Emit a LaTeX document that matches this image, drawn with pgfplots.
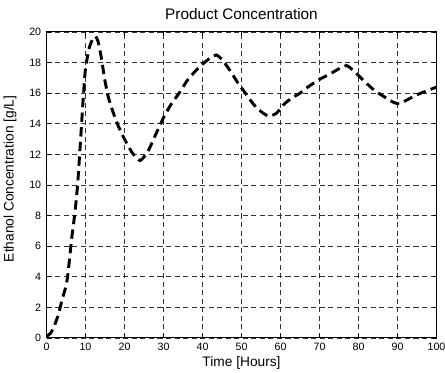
\documentclass[border=0pt]{standalone}
\usepackage{pgfplots}
\pgfplotsset{compat=1.18}
\usepackage{fontspec}
\setmainfont{Liberation Sans}
\begin{document}
\begin{tikzpicture}
\begin{scope}
\clip (-34.875pt,-26.25pt) rectangle (298.875pt,253.5pt);
\begin{axis}[
  at={(0,0)}, anchor=south west,
  scale only axis, width=292.5pt, height=229.5pt,
  xmin=0, xmax=100, ymin=0, ymax=20,
  xtick={0,10,...,100}, ytick={0,2,...,20},
  tick align=inside, tick pos=both,
  major tick length=3pt,
  axis line style={line width=0.75pt},
  every tick/.style={black, line width=0.6pt},
  grid=major,
  major grid style={dash pattern=on 3.8pt off 2.6pt, black!80, line width=0.45pt},
  /pgf/number format/assume math mode=true,
  ticklabel style={font=\fontsize{8}{9.6}\selectfont},
  xticklabel style={yshift=-0.5pt},
  yticklabel style={xshift=-0.5pt},
  every axis title shift=0pt,
  title={Product Concentration},
  title style={at={(axis description cs:0.5,1.0588)}, anchor=center, font=\fontsize{11.5}{13.8}\selectfont},
  xlabel={Time [Hours]},
  xlabel style={at={(axis description cs:0.5,-0.0817)}, anchor=center, font=\fontsize{10.3}{12.4}\selectfont},
  ylabel={Ethanol Concentration [g/L]},
  ylabel style={at={(axis description cs:-0.0936,0.52)}, anchor=center, font=\fontsize{10.3}{12.4}\selectfont},
]
\addplot[black, line width=2.2pt, dash pattern=on 7pt off 4pt, smooth, tension=0.4] coordinates {
(0,0.1) (1,0.3) (2,0.8) (3,1.5) (4,2.5) (5,3.4) (5.5,4.2) (6,5.4) (6.5,6.6) (7,7.6)
(7.5,8.7) (8,10.1) (8.5,12) (9,14) (9.5,16) (10,17.6) (11,19) (12,19.6) (12.6,19.7)
(13.2,19.4) (14,18.4) (15,16.8) (16,15.6) (18,14.1) (20,13) (22,12.1) (24,11.6)
(26,12.2) (28,13.3) (30,14.4) (32,15.3) (34,16) (36,16.8) (38,17.4) (40,17.9)
(42,18.3) (43.5,18.5) (45,18.2) (47,17.5) (49,16.7) (51,16) (53,15.3) (55,14.8)
(57,14.5) (59,14.7) (61,15.3) (63,15.7) (65,16) (67,16.4) (70,16.9) (73,17.3)
(75,17.6) (77,17.8) (79,17.4) (81,16.9) (84,16.2) (87,15.7) (89,15.4) (90.5,15.3)
(92,15.5) (95,15.9) (98,16.2) (100,16.4)
};
\end{axis}
\end{scope}
\pgfresetboundingbox
\useasboundingbox (-34.875pt,-26.25pt) rectangle (298.875pt,253.5pt);
\end{tikzpicture}
\end{document}
